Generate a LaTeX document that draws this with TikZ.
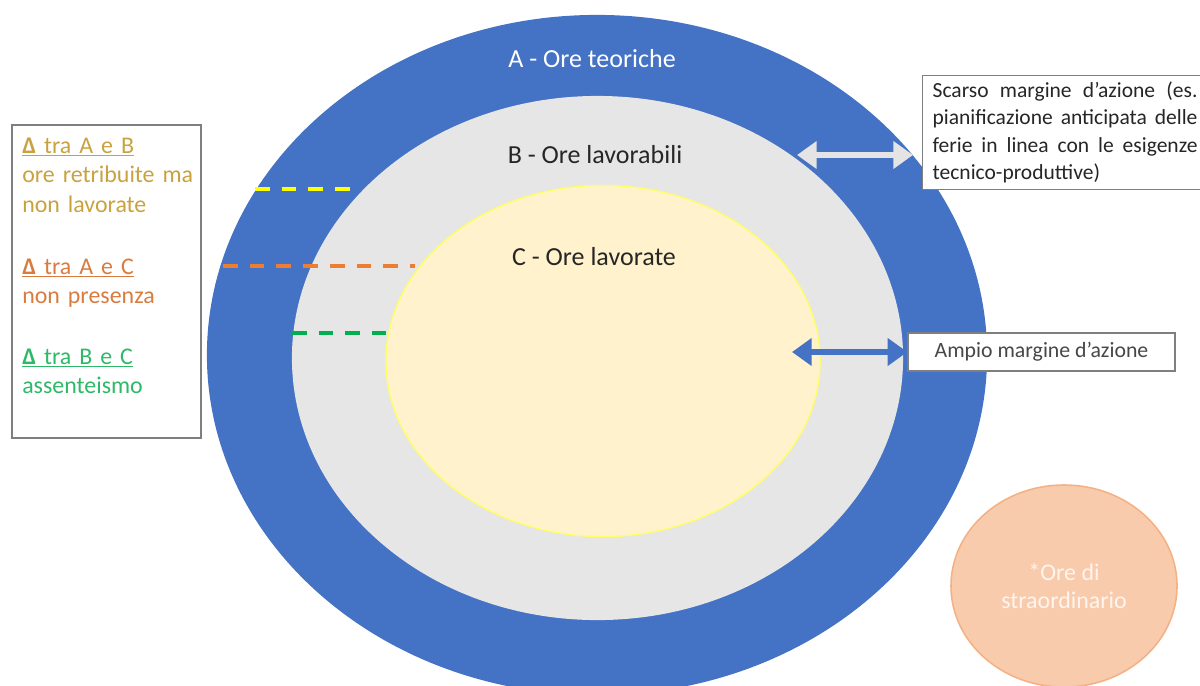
\documentclass[tikz,border=0pt]{standalone}
\usepackage{fontspec}
\setmainfont{Carlito}
\usetikzlibrary{shapes.geometric,arrows.meta}
\definecolor{oreBlue}{HTML}{4472C4}
\definecolor{oreGray}{HTML}{E6E6E6}
\definecolor{oreCream}{HTML}{FFF2CC}
\definecolor{oreYellow}{HTML}{FFFF66}
\definecolor{extraFill}{HTML}{F8CBAD}
\definecolor{extraLine}{HTML}{F4B183}
\definecolor{extraText}{HTML}{FFF5EE}
\definecolor{boxGray}{HTML}{7F7F7F}
\definecolor{noteText}{HTML}{262626}
\definecolor{arrowLight}{HTML}{E4E4E4}
\definecolor{goldTxt}{HTML}{C9A23F}
\definecolor{orangeTxt}{HTML}{D97B3F}
\definecolor{greenTxt}{HTML}{2EB867}
\definecolor{dashYellow}{HTML}{FFFF00}
\definecolor{dashOrange}{HTML}{ED7D31}
\definecolor{dashGreen}{HTML}{00B050}
\tikzset{
  zone/.style={ellipse, inner sep=0pt},
  zonetext/.style={anchor=base, inner sep=0pt, font=\fontsize{18.5}{22}\selectfont},
  legendtext/.style={anchor=base west, inner sep=0pt, text width=4.4cm, align=left, font=\fontsize{17}{21}\selectfont},
  notebox/.style={draw=boxGray, line width=0.9pt, fill=white, text=noteText},
  gapline/.style={line width=2.8pt, dash pattern=on 10.5pt off 8.5pt},
  margin/.style={line width=4.2pt, {Triangle[length=14pt,width=19pt]}-{Triangle[length=14pt,width=19pt]}}
}
\begin{document}
\begin{tikzpicture}[x=0.025cm,y=-0.025cm]

\useasboundingbox (0,0) rectangle (1200,685);
\clip(0,0) rectangle (1200,685);
  \node[zone, fill=oreBlue, minimum width=19.5cm, minimum height=17cm] (teoriche) at (597,355) {};
  \node[zone, fill=oreGray, minimum width=15.275cm, minimum height=13.1cm] (lavorabili) at (597.5,358) {};
  \node[zone, fill=oreCream, draw=oreYellow, line width=1pt, minimum width=10.85cm, minimum height=8.775cm] (lavorate) at (603,361) {};
  \node[zone, fill=extraFill, draw=extraLine, line width=1.1pt, minimum width=5.65cm, minimum height=5.05cm, align=center, text=extraText, font=\fontsize{17}{20}\selectfont] (straord) at (1064,586) {*Ore di\\straordinario};
  \node[zonetext, text=white] (tA) at (592,67) {A - Ore teoriche};
  \node[zonetext, text=noteText] (tB) at (595,163) {B - Ore lavorabili};
  \node[zonetext, text=noteText] (tC) at (594,265) {C - Ore lavorate};
  \node[draw=boxGray, line width=1.2pt, minimum width=4.725cm, minimum height=7.825cm] (legenda) at (106.5,281.5) {};
  \node[legendtext, text=goldTxt] (dAB) at (22,153) {\underline{\textbf{Δ} tra A e B}\\ore retribuite ma\\non lavorate};
  \node[legendtext, text=orangeTxt] (dAC) at (22,274) {\underline{\textbf{Δ} tra A e C}\\non presenza};
  \node[legendtext, text=greenTxt] (dBC) at (22,364) {\underline{\textbf{Δ} tra B e C}\\assenteismo};
  \node[notebox, anchor=north west, text width=6.62cm, align=justify, inner xsep=0.25cm, inner ysep=4.5pt, font=\fontsize{15.3}{19.4}\selectfont] (scarso) at (922,75) {Scarso margine d’azione (es.\linebreak pianificazione anticipata delle\linebreak ferie in linea con le esigenze\linebreak tecnico-produttive)};
  \node[notebox, minimum width=6.675cm, minimum height=0.95cm, text=noteText!85, font=\fontsize{15.5}{18}\selectfont] (ampio) at (1041.5,352) {Ampio margine d’azione};
  \coordinate (scarsoFrom) at (797,155);
  \coordinate (scarsoTo) at (913,155);
  \coordinate (ampioFrom) at (792,352);
  \draw[margin, draw=arrowLight] (scarsoFrom) -- (scarsoTo);
  \draw[margin, draw=oreBlue] (ampioFrom) -- (ampio.west);
  \coordinate (ab1) at (255,189);
  \coordinate (ab2) at (357,189);
  \coordinate (ac1) at (223,266);
  \coordinate (ac2) at (415,266);
  \coordinate (bc1) at (292,333);
  \coordinate (bc2) at (386,333);
  \draw[gapline, draw=dashYellow] (ab1) -- (ab2);
  \draw[gapline, draw=dashOrange] (ac1) -- (ac2);
  \draw[gapline, draw=dashGreen] (bc1) -- (bc2);
\end{tikzpicture}
\end{document}
